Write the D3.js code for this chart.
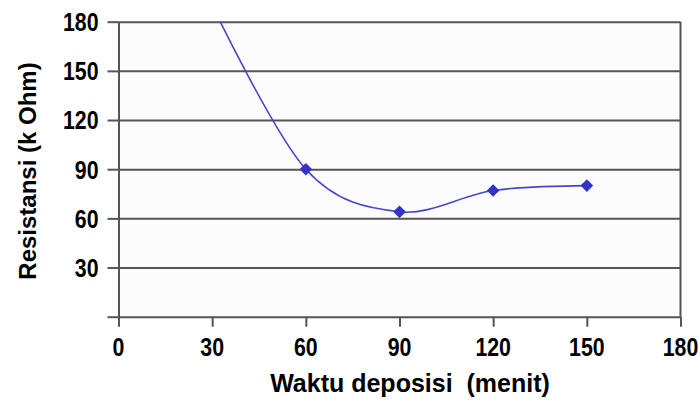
<!DOCTYPE html>
<html><head><meta charset="utf-8">
<script src="https://cdn.jsdelivr.net/npm/d3@7/dist/d3.min.js"></script>
<style>
html,body{margin:0;padding:0;background:#fff;}
svg{display:block;}
</style></head>
<body>
<svg id="chart" width="698" height="405"></svg>
<script>
// ---- data ----
const waktu = [30, 60, 90, 120, 150];          // menit
const resistansi = [190, 90, 64, 77, 80];      // k Ohm (first point lies above the axis range)
const xTickValues = [0, 30, 60, 90, 120, 150, 180];
const yTickValues = [0, 30, 60, 90, 120, 150, 180];
const yTickLabels = ["", "30", "60", "90", "120", "150", "180"];
const xTitle = "Waktu deposisi  (menit)";
const yTitle = "Resistansi (k Ohm)";

(function () {
const svg = d3.select("#chart");
const pLeft = 118.5, pRight = 680.5, pTop = 21.7, pBottom = 316.7;
const x = d3.scaleLinear().domain([0, 180]).range([pLeft, pRight]);
const y = d3.scaleLinear().domain([0, 180]).range([pBottom, pTop]);

const axisColor = "#555555";
const font = "'Liberation Sans', Arial, sans-serif";

// plot background
svg.append("rect").attr("x", pLeft).attr("y", pTop)
  .attr("width", pRight - pLeft).attr("height", pBottom - pTop).attr("fill", "#fcfcfc");

// gridlines
const grid = svg.append("g").attr("transform", `translate(${pLeft},0)`)
  .call(d3.axisLeft(y).tickValues(yTickValues.filter(v => v > 0)).tickSize(-(pRight - pLeft)).tickFormat(""));
grid.select(".domain").remove();
grid.selectAll("line").attr("stroke", axisColor).attr("stroke-width", 2);

// y axis with outward ticks
const yAx = svg.append("g").attr("transform", `translate(${pLeft},0)`)
  .call(d3.axisLeft(y).tickValues(yTickValues).tickSizeInner(11).tickSizeOuter(0).tickFormat(""));
yAx.select(".domain").attr("stroke", axisColor).attr("stroke-width", 2);
yAx.selectAll("line").attr("stroke", axisColor).attr("stroke-width", 2);

// x axis with downward ticks
const xAx = svg.append("g").attr("transform", `translate(0,${pBottom})`)
  .call(d3.axisBottom(x).tickValues(xTickValues).tickSizeInner(10).tickSizeOuter(0).tickFormat(""));
xAx.select(".domain").attr("stroke", axisColor).attr("stroke-width", 2);
xAx.selectAll("line").attr("stroke", axisColor).attr("stroke-width", 2);

// right border
svg.append("line").attr("x1", pRight).attr("x2", pRight).attr("y1", y(180)).attr("y2", y(0))
  .attr("stroke", axisColor).attr("stroke-width", 2);

// y tick labels
svg.append("g").selectAll("text").data(yTickValues).join("text")
  .attr("transform", d => `translate(98.5,${y(d)}) scale(0.82,1)`)
  .attr("dy", "0.36em").attr("text-anchor", "end")
  .attr("font-family", font).attr("font-weight", "bold").attr("font-size", 26)
  .attr("fill", "#000")
  .text((d, i) => yTickLabels[i]);

// x tick labels
svg.append("g").selectAll("text").data(xTickValues).join("text")
  .attr("transform", d => `translate(${x(d)},${pBottom + 30}) scale(0.82,1)`)
  .attr("dy", "0.36em").attr("text-anchor", "middle")
  .attr("font-family", font).attr("font-weight", "bold").attr("font-size", 26)
  .attr("fill", "#000")
  .text(d => String(d));

// clip
svg.append("clipPath").attr("id", "clip").append("rect")
  .attr("x", pLeft).attr("y", pTop).attr("width", pRight - pLeft).attr("height", pBottom - pTop);

const pts = waktu.map((w, i) => [w, resistansi[i]]);
const line = d3.line().x(d => x(d[0])).y(d => y(d[1])).curve(d3.curveCardinal.tension(0));
svg.append("path").attr("clip-path", "url(#clip)").datum(pts)
  .attr("d", line).attr("fill", "none").attr("stroke", "#4646cc").attr("stroke-width", 1.6);

svg.append("g").attr("clip-path", "url(#clip)").selectAll("path").data(pts).join("path")
  .attr("d", d3.symbol(d3.symbolSquare, 80))
  .attr("transform", d => `translate(${x(d[0])},${y(d[1])}) rotate(45)`)
  .attr("fill", "#3434c4");

// axis titles
svg.append("text").attr("x", 410).attr("y", 391.5).attr("text-anchor", "middle")
  .attr("font-family", font).attr("font-weight", "bold").attr("font-size", 25)
  .style("white-space", "pre")
  .text(xTitle);

svg.append("text").attr("transform", "translate(35.5,171) rotate(-90)").attr("text-anchor", "middle")
  .attr("font-family", font).attr("font-weight", "bold").attr("font-size", 24)
  .text(yTitle);
})();
</script>
</body></html>
